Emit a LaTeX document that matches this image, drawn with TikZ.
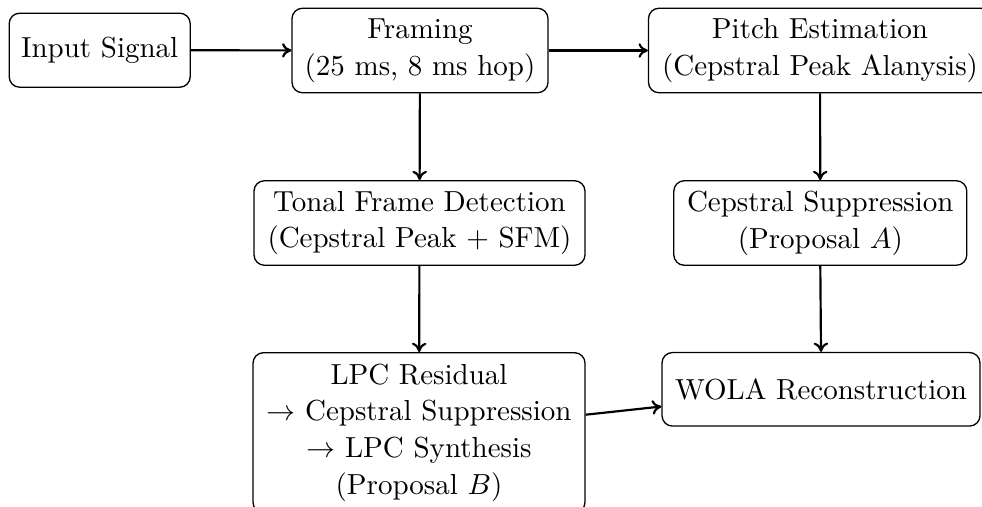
\documentclass[tikz,border=0pt]{standalone}
\usetikzlibrary{arrows.meta}
\def\pxu{0.3448pt}
\tikzset{
  box/.style={draw, rounded corners=3.6pt, line width=0.45pt, align=center,
    inner xsep=0pt, inner ysep=0pt, font=\fontsize{10}{12.7}\selectfont},
  conn/.style={-{To[length=3.2pt,width=5pt]}, line width=0.75pt}
}
\begin{document}
\begin{tikzpicture}[x=\pxu, y=-\pxu]
\useasboundingbox (0,0) rectangle (982,506);
\clip (0,0) rectangle (982,506);
\node[box, minimum width=181*\pxu, minimum height=74*\pxu] (in) at (99.7,50.2) {Input Signal};
\node[box, minimum width=256*\pxu, minimum height=84.5*\pxu] (fr) at (420,50.5) {Framing\\(25 ms, 8 ms hop)};
\node[box, minimum width=343*\pxu, minimum height=84.5*\pxu] (pe) at (820,50.5) {Pitch Estimation\\(Cepstral Peak Alanysis)};
\node[box, minimum width=331*\pxu, minimum height=84.5*\pxu] (td) at (419.5,223) {Tonal Frame Detection\\(Cepstral Peak + SFM)};
\node[box, minimum width=293*\pxu, minimum height=84.5*\pxu] (cs) at (820.3,223) {Cepstral Suppression\\(Proposal $A$)};
\node[box, minimum width=332*\pxu, minimum height=160*\pxu] (lpc) at (419,432.7) {LPC Residual\\$\rightarrow$ Cepstral Suppression\\$\rightarrow$ LPC Synthesis\\(Proposal $B$)};
\node[box, minimum width=318*\pxu, minimum height=73.5*\pxu] (wola) at (821,389.3) {WOLA Reconstruction};
\draw[conn] (in) -- (fr);
\draw[conn] (fr) -- (pe);
\draw[conn] (fr) -- (td);
\draw[conn] (td) -- (lpc);
\draw[conn] (pe) -- (cs);
\draw[conn] (cs.south) -- (wola.north);
\draw[conn] (lpc) -- (wola);
\end{tikzpicture}
\end{document}
